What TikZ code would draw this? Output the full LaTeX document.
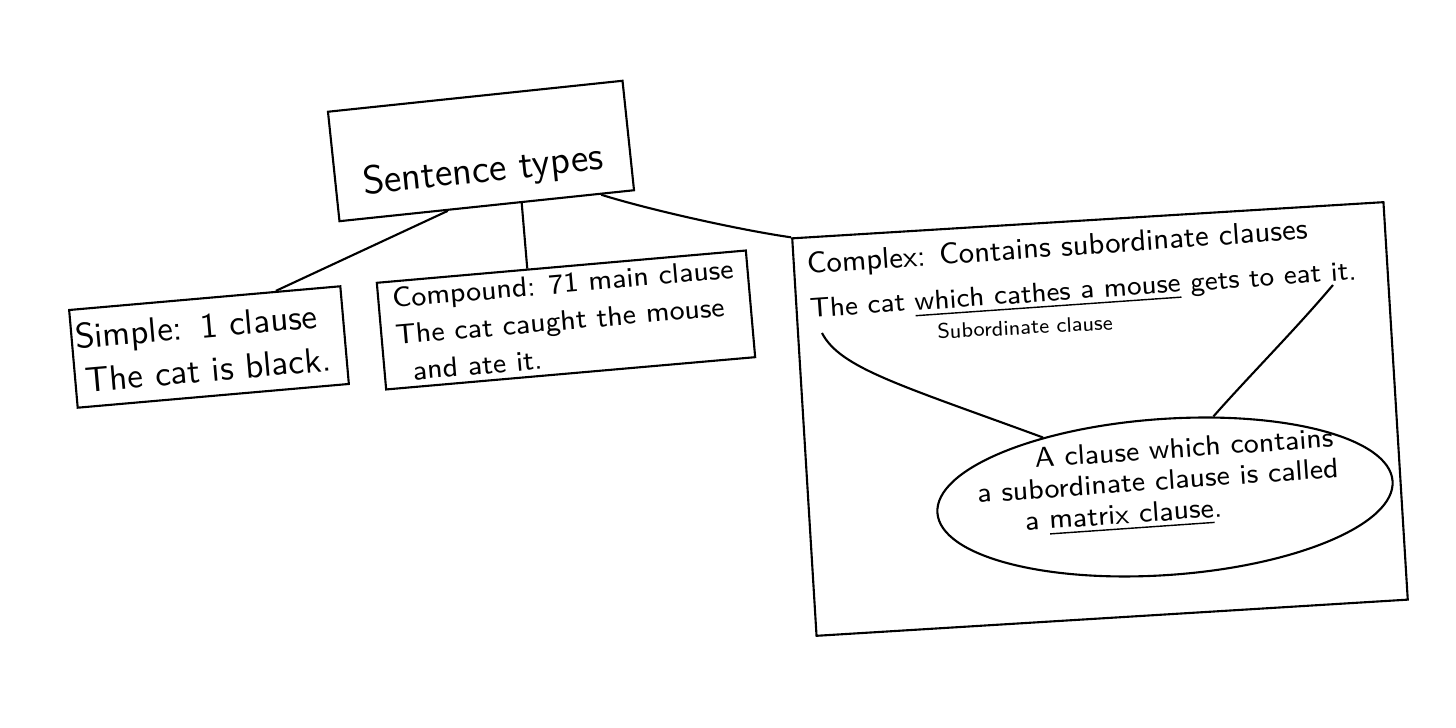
\documentclass[tikz,border=0pt]{standalone}
\usetikzlibrary{shapes.geometric}
\begin{document}
\begin{tikzpicture}[x=0.01cm,y=-0.01cm,line width=0.6pt,
    card/.style={draw,rectangle,inner xsep=4pt,inner ysep=1pt,align=left,font=\sffamily\fontsize{9.5}{12.5}\selectfont},
    hand/.style={inner sep=0pt,font=\sffamily\fontsize{8.5}{11}\selectfont}]
    \useasboundingbox (0,0) rectangle (1456,728);
    % the four boxes
    \node[card,rotate=6,minimum width=2.96cm,minimum height=1.1cm,align=center,font=\sffamily\fontsize{11.3}{14}\selectfont] (title) at (481,151) {\rule{0pt}{20pt}Sentence types};
    \node[card,rotate=5,inner xsep=1pt,text width=2.65cm,minimum height=0.98cm,font=\sffamily\fontsize{10}{12.5}\selectfont] (simple) at (209,347) {Simple: 1 clause\\\hspace*{2pt}The cat is black.};
    \node[card,rotate=5,minimum width=3.68cm,minimum height=1.07cm,font=\sffamily\fontsize{8}{10.5}\selectfont] (compound) at (566,320) {Compound: 71 main clause\\The cat caught the mouse\\\hspace*{4pt}and ate it.};
    \node[draw,rotate=3.5,minimum width=5.92cm,minimum height=3.98cm] (complex) at (1100,419) {};
    % text of the complex box
    \node[hand,rotate=4,anchor=north west,align=left,font=\sffamily\fontsize{8.5}{12.5}\selectfont] (cplxtext) at (805,252) {Complex: Contains subordinate clauses\\{\fontsize{7.8}{10}\selectfont The cat \underline{which cathes a mouse} gets to eat it.}};
    \node[hand,rotate=3,font=\sffamily\fontsize{6}{7}\selectfont] (subcl) at (1025,327) {Subordinate clause};
    \node[draw,ellipse,rotate=4,minimum width=4.56cm,minimum height=1.56cm] (matrix) at (1165,497) {};
    \node[hand,rotate=4,align=left,font=\sffamily\fontsize{8}{8.8}\selectfont] (matrixtext) at (1158,484) {\hspace*{17pt}A clause which contains\\a subordinate clause is called\\\hspace*{13pt}a \underline{matrix clause}.};
    % connectors
    \coordinate (cat) at (822,333);
    \coordinate (eat) at (1333,285);
    \draw (title.235) -- (simple.35);
    \draw (title.302) -- (compound.122);
    \draw (title.334) .. controls (650,210) and (740,230) .. (complex.north west);
    \draw (cat) .. controls (840,368) and (900,385) .. (matrix.150);
    \draw (eat) .. controls (1295,330) and (1250,375) .. (matrix.55);
\end{tikzpicture}
\end{document}
